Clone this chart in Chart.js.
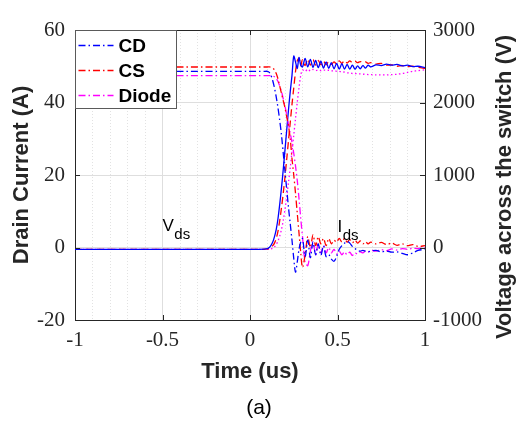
<!DOCTYPE html>
<html>
<head>
<meta charset="utf-8">
<script src="https://cdn.jsdelivr.net/npm/chart.js@4.4.1/dist/chart.umd.min.js"></script>
<style>
  html, body { margin: 0; padding: 0; background: #fff; }
</style>
</head>
<body>
<canvas id="chart" width="516" height="428"></canvas>
<script>
// time axis (us), shared by every trace
const time = [
  -1, -0.5, 0, 0.05, 0.08, 0.1,
  0.11, 0.12, 0.13, 0.14, 0.15, 0.16, 0.17, 0.18, 0.19, 0.2, 0.21, 0.22, 0.23, 0.24, 0.25, 0.26, 0.27, 0.28, 0.29, 0.3,
  0.315, 0.33, 0.345, 0.36, 0.375, 0.39, 0.405, 0.42, 0.435, 0.45, 0.465, 0.48, 0.495, 0.51, 0.525, 0.54, 0.555, 0.57, 0.585, 0.6, 0.615, 0.63, 0.645, 0.66, 0.675, 0.69,
  0.72, 0.75, 0.78, 0.81, 0.84, 0.87, 0.9, 0.93, 0.96, 1
];

// drain current (A)
const currentCD = [
  -0.5, -0.5, -0.5, -0.5, -0.45, -0.3,
  0, 0.6, 1.5, 3, 5, 8, 12, 16.5, 21.5, 27, 32.5, 38, 43, 47.5, 52.8, 51.2, 49.4, 52.4, 50.3, 49.8,
  52.2, 49.8, 51.9, 49.7, 51.6, 49.6, 51.4, 49.5, 51.2, 49.4, 51.0, 49.3, 50.8, 49.2, 50.7, 49.2, 50.5, 49.2, 50.3, 49.2, 50.1, 49.3, 50.2, 49.5, 50.3, 49.8,
  50.4, 50.2, 50.6, 50.3, 50.5, 50.1, 50.3, 49.9, 50.0, 49.6
];
const currentCS = [
  -0.5, -0.5, -0.5, -0.5, -0.5, -0.4,
  -0.3, 0, 0.5, 1.2, 2.5, 4.5, 7.5, 11, 15, 19.5, 24.5, 29.5, 34.5, 39.5, 44, 48.5, 51.5, 52.2, 50.2, 51.8,
  50.2, 52.0, 50.3, 51.8, 50.3, 51.6, 50.4, 51.4, 50.4, 51.3, 50.5, 51.2, 50.6, 51.5, 50.8, 51.6, 50.9, 51.5, 51.0, 51.4, 51.0, 51.3, 51.0, 51.2, 50.8, 51.0,
  50.6, 50.8, 50.3, 50.4, 50.0, 50.2, 49.9, 50.0, 49.7, 49.4
];
const currentDiode = [
  -0.5, -0.5, -0.5, -0.5, -0.5, -0.5,
  -0.5, -0.4, -0.2, 0.2, 0.8, 1.8, 3.2, 5, 7.5, 10.5, 14, 18, 22, 26.5, 31, 35.5, 40, 44, 47.5, 49,
  48.6, 49.2, 48.7, 49.1, 48.8, 49.0, 48.8, 49.0, 48.8, 48.9, 48.7, 48.8, 48.6, 48.6, 48.4, 48.4, 48.2, 48.2, 48.0, 48.0, 47.9, 47.9, 47.8, 47.8, 47.7, 47.7,
  47.6, 47.6, 47.6, 47.7, 47.8, 48.0, 48.3, 48.6, 48.8, 49.0
];

// voltage across the switch (V)
const voltageCD = [
  2430, 2430, 2430, 2430, 2430, 2430,
  2415, 2375, 2300, 2200, 2075, 1925, 1750, 1550, 1300, 1050, 800, 550, 325, 100, -150, -340, -200, -25, 75, 125,
  -125, 100, -140, 75, -100, 50, -110, 25, -125, -100, -160, -190, -125, -25, 25, 60, 85, 60, 15, -15, -40, -50, -40, -50, -60, -50,
  -40, -60, -50, -65, -60, -80, -100, -75, -40, -25
];
const voltageCS = [
  2490, 2490, 2490, 2490, 2490, 2490,
  2490, 2485, 2475, 2450, 2400, 2325, 2225, 2125, 2025, 1925, 1800, 1675, 1500, 1225, 1000, 750, 475, 200, -75, -275,
  -100, 150, 0, 175, 25, 150, 50, 125, 25, 125, 50, 100, 75, 125, 75, 125, 75, 110, 65, 100, 60, 90, 50, 80, 50, 75,
  50, 70, 40, 60, 30, 50, 25, 40, 15, 25
];
const voltageDiode = [
  2370, 2370, 2370, 2370, 2370, 2370,
  2370, 2370, 2365, 2355, 2330, 2290, 2225, 2150, 2050, 1950, 1825, 1700, 1575, 1450, 1300, 1125, 925, 675, 400, 150,
  -200, -250, -50, 75, -100, 50, -75, 25, -75, 0, -75, -25, -90, -50, -100, -60, -100, -65, -110, -75, -90, -60, -75, -50, -65, -40,
  -50, -30, -45, -20, -35, -15, -25, -10, -15, 0
];

const seriesNames = ['CD', 'CS', 'Diode'];
const seriesColors = ['#0000ff', '#ff0000', '#ff00ff'];
const xTicks = [-1, -0.5, 0, 0.5, 1];
const leftTicks = [-20, 0, 20, 40, 60];
const rightTicks = [-1000, 0, 1000, 2000, 3000];
const textLabels = [
  { text: 'V', sub: 'ds', x: -0.5, y: 4.5 },
  { text: 'I', sub: 'ds', x: 0.5, y: 4.2 }
];
const rightTitle = 'Voltage across the switch (V)';

const dashDot = [7, 3, 1.5, 3];
const currentDash = [[], [7, 4], [1.5, 2.5]];
const voltages = [voltageCD, voltageCS, voltageDiode];
const currents = [currentCD, currentCS, currentDiode];

function toPoints(values) {
  return time.map((t, i) => ({ x: t, y: values[i] }));
}

const datasets = [];
seriesNames.forEach((name, i) => {
  datasets.push({
    label: name,
    data: toPoints(voltages[i]),
    yAxisID: 'y2',
    borderColor: seriesColors[i],
    borderDash: dashDot,
    borderWidth: 1.3,
    pointRadius: 0,
    tension: 0.3
  });
});
seriesNames.forEach((name, i) => {
  datasets.push({
    label: name + ' current',
    data: toPoints(currents[i]),
    yAxisID: 'y',
    borderColor: seriesColors[i],
    borderDash: currentDash[i],
    borderWidth: 1.3,
    pointRadius: 0,
    tension: 0.3
  });
});

function isMajor(v) {
  return xTicks.some(m => Math.abs(m - v) < 1e-6);
}

const serif = '"Liberation Serif", "DejaVu Serif", serif';
const sans = '"Liberation Sans", Arial, sans-serif';
const ink = '#262626';

const extras = {
  id: 'extras',
  afterDraw(chart) {
    const { ctx, chartArea: a, scales } = chart;
    ctx.save();
    ctx.strokeStyle = ink;
    ctx.lineWidth = 1;
    ctx.setLineDash([]);
    // top frame line
    ctx.beginPath();
    ctx.moveTo(a.left, a.top + 0.5);
    ctx.lineTo(a.right, a.top + 0.5);
    ctx.stroke();
    // inward tick marks
    ctx.beginPath();
    xTicks.forEach(v => {
      const px = Math.round(scales.x.getPixelForValue(v)) + 0.5;
      ctx.moveTo(px, a.bottom); ctx.lineTo(px, a.bottom - 5);
      ctx.moveTo(px, a.top); ctx.lineTo(px, a.top + 5);
    });
    leftTicks.forEach(v => {
      const py = Math.round(scales.y.getPixelForValue(v)) + 0.5;
      ctx.moveTo(a.left, py); ctx.lineTo(a.left + 5, py);
    });
    rightTicks.forEach(v => {
      const py = Math.round(scales.y2.getPixelForValue(v)) + 0.5;
      ctx.moveTo(a.right, py); ctx.lineTo(a.right - 5, py);
    });
    ctx.stroke();

    // legend box in the upper-left corner
    const lx = a.left + 0.5, ly = a.top + 0.5, lw = 101, lh = 78;
    ctx.fillStyle = '#fff';
    ctx.fillRect(lx, ly, lw, lh);
    ctx.strokeStyle = '#5a5a5a';
    ctx.strokeRect(lx, ly, lw, lh);
    ctx.font = 'bold 19px ' + sans;
    ctx.textBaseline = 'middle';
    ctx.textAlign = 'left';
    seriesNames.forEach((name, i) => {
      const ds = chart.data.datasets[i];
      const y = ly + 15 + i * 25;
      ctx.strokeStyle = ds.borderColor;
      ctx.lineWidth = 1.3;
      ctx.setLineDash(ds.borderDash);
      ctx.beginPath();
      ctx.moveTo(lx + 3, y);
      ctx.lineTo(lx + 38, y);
      ctx.stroke();
      ctx.setLineDash([]);
      ctx.fillStyle = '#000';
      ctx.fillText(name, lx + 43, y + 1);
    });

    // V_ds / I_ds labels
    ctx.fillStyle = '#000';
    ctx.textBaseline = 'alphabetic';
    textLabels.forEach(l => {
      const px = scales.x.getPixelForValue(l.x);
      const py = scales.y.getPixelForValue(l.y);
      ctx.font = '17px ' + sans;
      ctx.fillText(l.text, px, py);
      const w = ctx.measureText(l.text).width;
      ctx.font = '15px ' + sans;
      ctx.fillText(l.sub, px + w + 0.5, py + 7.5);
    });

    // right axis title, reading bottom to top like the left one
    ctx.save();
    ctx.translate(scales.y2.right - 11, 187);
    ctx.rotate(-Math.PI / 2);
    ctx.font = 'bold 22px ' + sans;
    ctx.fillStyle = ink;
    ctx.textAlign = 'center';
    ctx.textBaseline = 'middle';
    ctx.fillText(rightTitle, 0, 0);
    ctx.restore();

    // panel caption
    ctx.font = '21px ' + sans;
    ctx.textAlign = 'center';
    ctx.textBaseline = 'middle';
    ctx.fillStyle = '#000';
    ctx.fillText('(a)', (a.left + a.right) / 2 + 9, 408);
    ctx.restore();
  }
};

new Chart(document.getElementById('chart'), {
  type: 'line',
  data: { datasets: datasets },
  plugins: [extras],
  options: {
    responsive: false,
    animation: false,
    devicePixelRatio: 1,
    layout: { padding: { top: 30, left: 0, right: 0, bottom: 0 } },
    plugins: { legend: { display: false }, tooltip: { enabled: false } },
    scales: {
      x: {
        type: 'linear',
        position: 'bottom',
        min: -1,
        max: 1,
        afterFit: s => { s.height = 108; },
        ticks: {
          stepSize: 0.1,
          autoSkip: false,
          maxRotation: 0,
          padding: 8,
          color: ink,
          font: { family: serif, size: 21 },
          callback: v => {
            const m = xTicks.find(t => Math.abs(t - v) < 1e-6);
            return m === undefined ? '' : String(m);
          }
        },
        grid: {
          drawTicks: false,
          color: c => (c.tick && isMajor(c.tick.value)) ? '#dedede' : '#e2e2e2',
          lineWidth: 1
        },
        border: {
          color: ink,
          dash: c => (c.tick && !isMajor(c.tick.value)) ? [1, 2] : []
        },
        title: {
          display: true,
          text: 'Time (us)',
          color: ink,
          font: { family: sans, size: 22, weight: 'bold', lineHeight: 1 },
          padding: { top: 0, bottom: 45 }
        }
      },
      y: {
        position: 'left',
        min: -20,
        max: 60,
        afterFit: s => { s.width = 75; },
        afterBuildTicks: s => { s.ticks = leftTicks.map(v => ({ value: v })); },
        ticks: { padding: 10, color: ink, font: { family: serif, size: 21 }, callback: v => String(v) },
        grid: { drawTicks: false, color: '#dedede' },
        border: { color: ink },
        title: {
          display: true,
          text: 'Drain Current (A)',
          color: ink,
          font: { family: sans, size: 22, weight: 'bold', lineHeight: 1 },
          padding: { top: 11, bottom: 0 }
        }
      },
      y2: {
        position: 'right',
        min: -1000,
        max: 3000,
        afterFit: s => { s.width = 91; },
        afterBuildTicks: s => { s.ticks = rightTicks.map(v => ({ value: v })); },
        ticks: { padding: 8, color: ink, font: { family: serif, size: 21 }, callback: v => String(v) },
        grid: { drawOnChartArea: false, drawTicks: false },
        border: { color: ink }
      }
    }
  }
});
</script>
</body>
</html>
